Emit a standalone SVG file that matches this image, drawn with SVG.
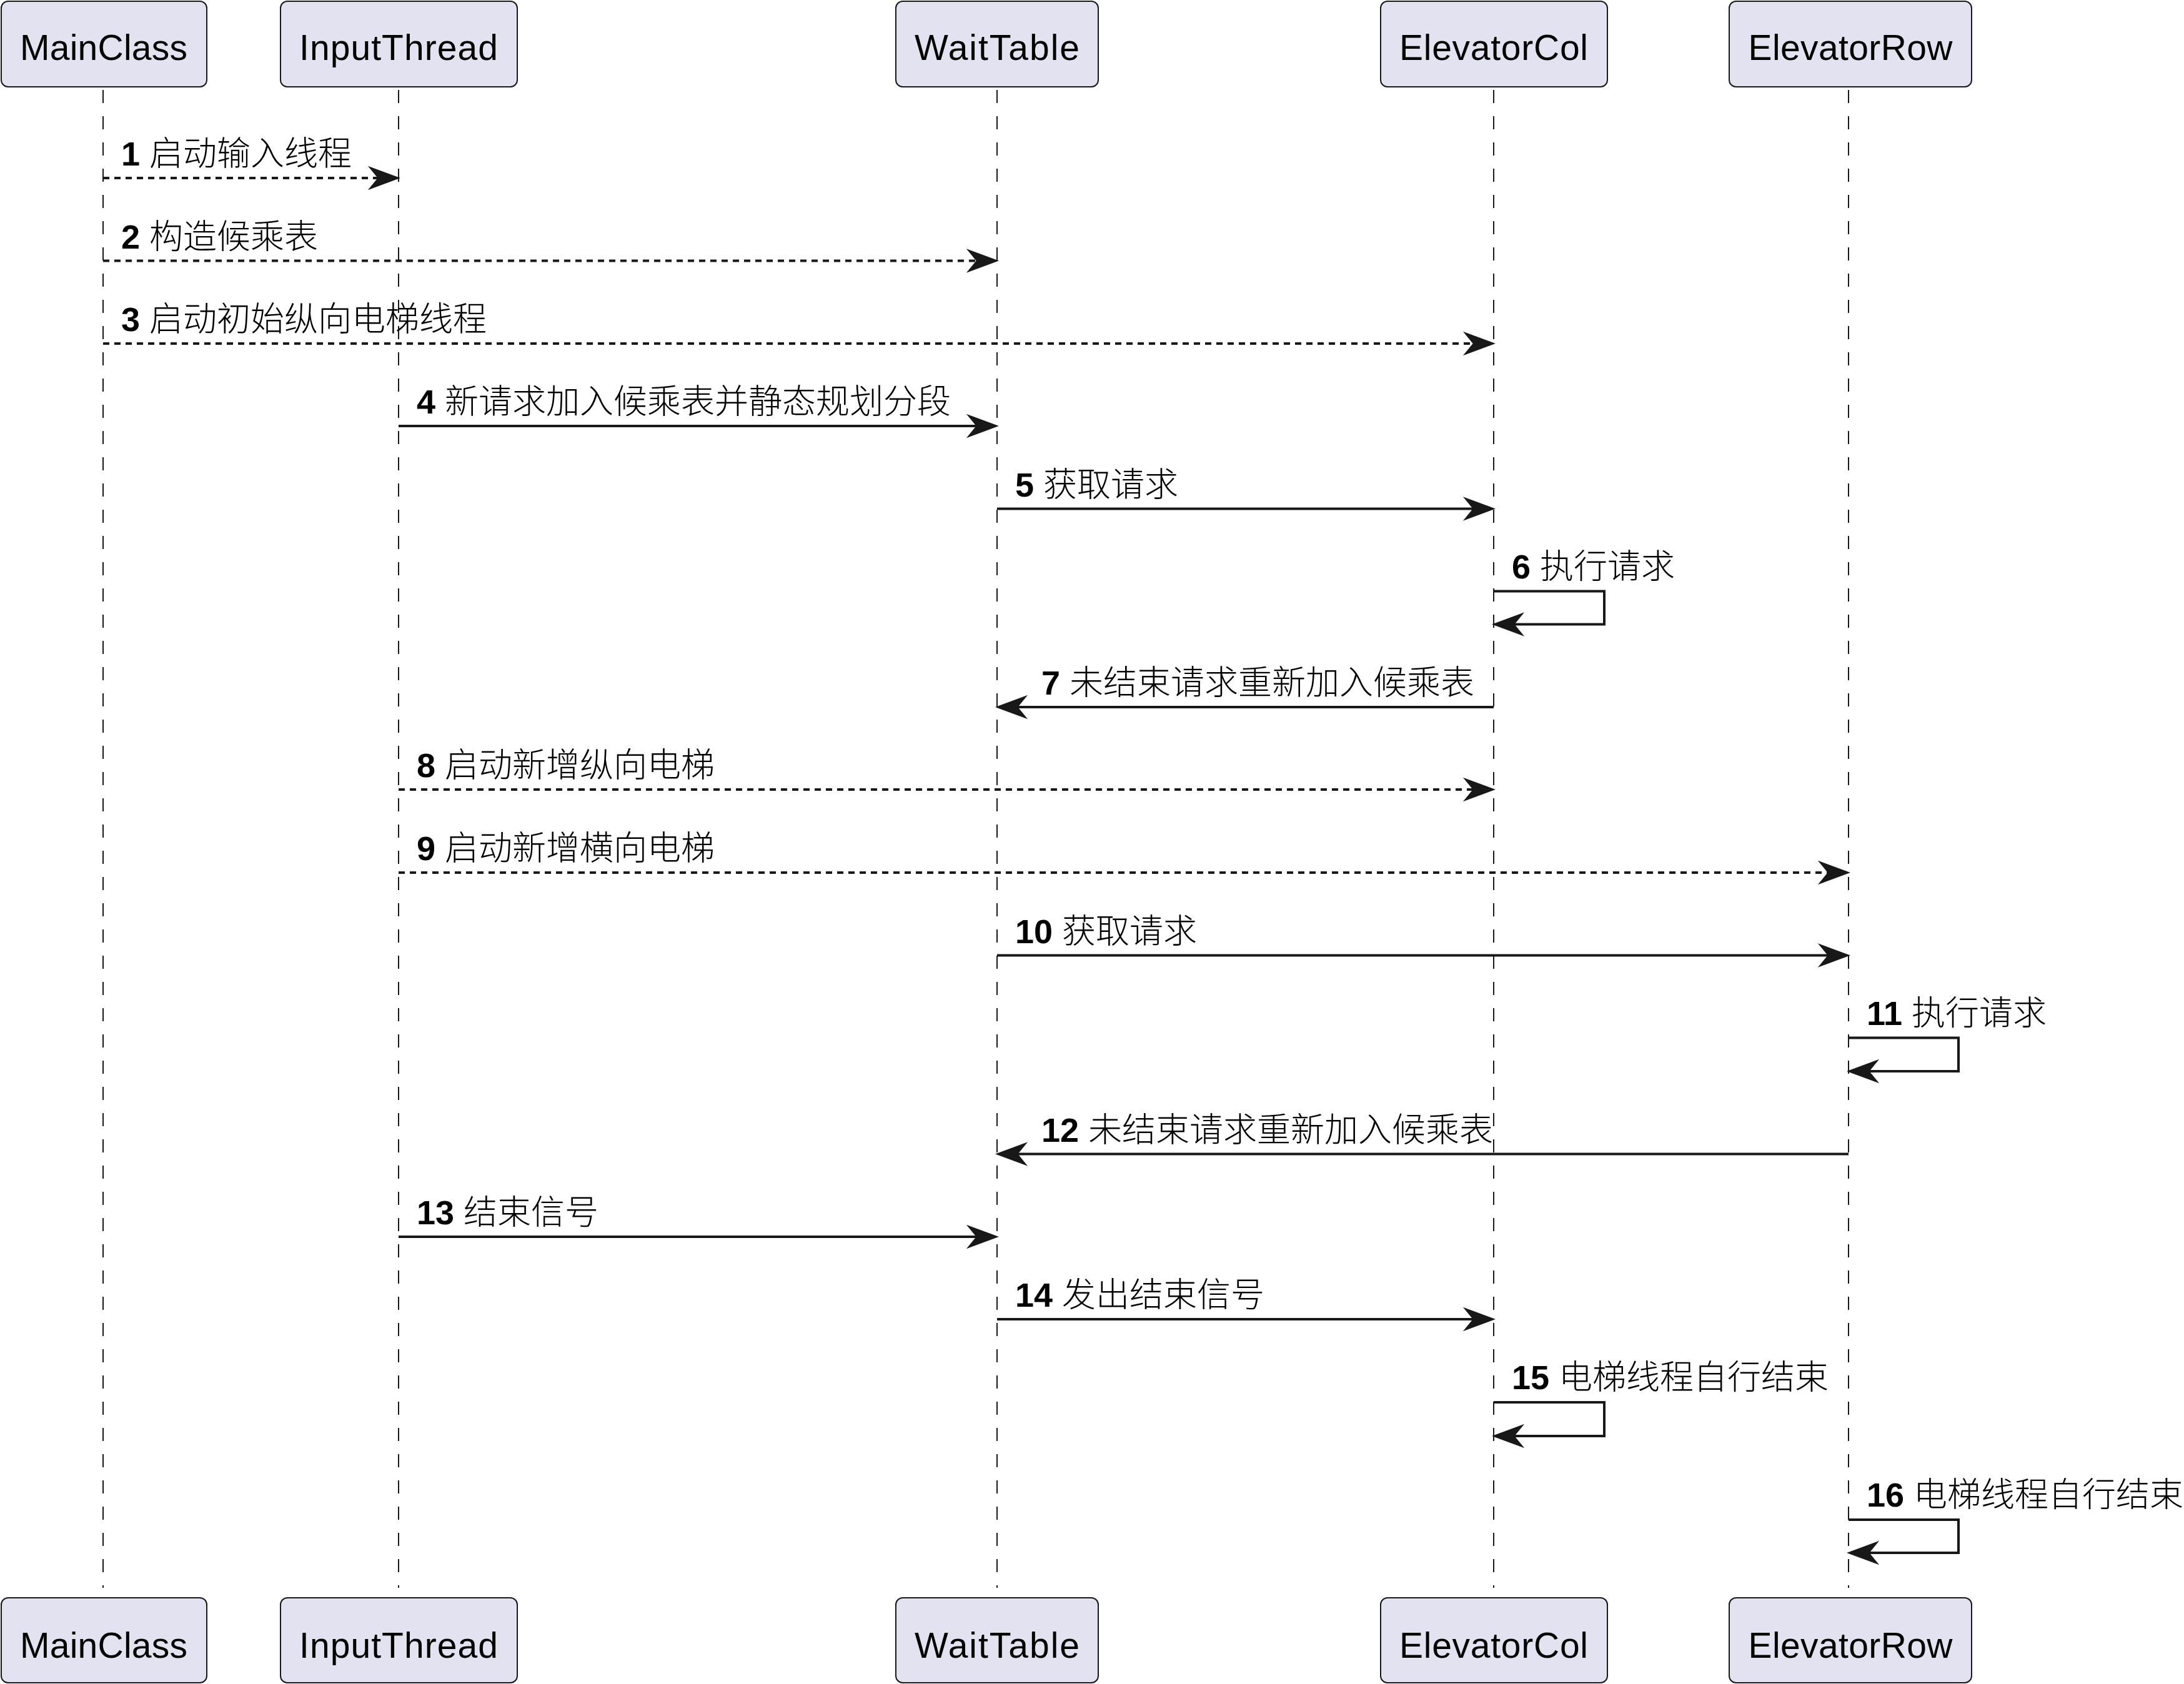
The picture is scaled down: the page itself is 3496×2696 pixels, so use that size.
<svg xmlns="http://www.w3.org/2000/svg" width="3496" height="2696" viewBox="0 0 3496 2696">
<style>
.box{fill:#E2E2F0;stroke:#181818;stroke-width:2}
.pname{font-family:"Liberation Sans","Noto Sans CJK SC",sans-serif;font-size:57px;fill:#000;text-anchor:middle}
.life{stroke:#181818;stroke-width:2;stroke-dasharray:21,21;fill:none}
.msg{stroke:#181818;stroke-width:4;fill:none;marker-end:url(#ah)}
.dash{stroke-dasharray:10,8}
.lbl{font-family:"Liberation Sans","Noto Sans CJK SC",sans-serif;font-size:54px;fill:#000}
.num{font-weight:bold}
.cjk{font-family:"Noto Sans CJK SC",sans-serif;font-weight:300}
</style>
<defs>
<marker id="ah" markerUnits="userSpaceOnUse" viewBox="-50 -22 60 44" markerWidth="60" markerHeight="44" refX="-6" refY="0" orient="auto" overflow="visible">
<path d="M0,0 L-46,-17 L-32,0 L-46,17 Z" fill="#181818" stroke="#181818" stroke-width="2" stroke-dasharray="none" stroke-linejoin="miter"/>
</marker>
</defs>
<rect width="3496" height="2696" fill="#FFFFFF"/>
<g id="lifelines">
<line class="life" x1="165" y1="144" x2="165" y2="2542"/>
<line class="life" x1="638" y1="144" x2="638" y2="2542"/>
<line class="life" x1="1596" y1="144" x2="1596" y2="2542"/>
<line class="life" x1="2391" y1="144" x2="2391" y2="2542"/>
<line class="life" x1="2959" y1="144" x2="2959" y2="2542"/>
</g>
<g id="MainClass">
<rect class="box" x="2" y="2" width="329" height="137" rx="11"/>
<text class="pname" x="166" y="96" textLength="268" lengthAdjust="spacing">MainClass</text>
<rect class="box" x="2" y="2558" width="329" height="136" rx="11"/>
<text class="pname" x="166" y="2654" textLength="268" lengthAdjust="spacing">MainClass</text>
</g>
<g id="InputThread">
<rect class="box" x="449" y="2" width="379" height="137" rx="11"/>
<text class="pname" x="638" y="96" textLength="318" lengthAdjust="spacing">InputThread</text>
<rect class="box" x="449" y="2558" width="379" height="136" rx="11"/>
<text class="pname" x="638" y="2654" textLength="318" lengthAdjust="spacing">InputThread</text>
</g>
<g id="WaitTable">
<rect class="box" x="1434" y="2" width="324" height="137" rx="11"/>
<text class="pname" x="1596" y="96" textLength="264" lengthAdjust="spacing">WaitTable</text>
<rect class="box" x="1434" y="2558" width="324" height="136" rx="11"/>
<text class="pname" x="1596" y="2654" textLength="264" lengthAdjust="spacing">WaitTable</text>
</g>
<g id="ElevatorCol">
<rect class="box" x="2210" y="2" width="363" height="137" rx="11"/>
<text class="pname" x="2391" y="96" textLength="302" lengthAdjust="spacing">ElevatorCol</text>
<rect class="box" x="2210" y="2558" width="363" height="136" rx="11"/>
<text class="pname" x="2391" y="2654" textLength="302" lengthAdjust="spacing">ElevatorCol</text>
</g>
<g id="ElevatorRow">
<rect class="box" x="2768" y="2" width="388" height="137" rx="11"/>
<text class="pname" x="2962" y="96" textLength="327" lengthAdjust="spacing">ElevatorRow</text>
<rect class="box" x="2768" y="2558" width="388" height="136" rx="11"/>
<text class="pname" x="2962" y="2654" textLength="327" lengthAdjust="spacing">ElevatorRow</text>
</g>
<g id="connectors">
<path class="msg dash" d="M165,285 H632"/>
<path class="msg dash" d="M165,417.5 H1590"/>
<path class="msg dash" d="M165,550 H2385"/>
<path class="msg" d="M638,682 H1590"/>
<path class="msg" d="M1596,814.5 H2385"/>
<path class="msg" d="M2391,946.5 H2568 V999.5 H2397"/>
<path class="msg" d="M2391,1132 H1602"/>
<path class="msg dash" d="M638,1264 H2385"/>
<path class="msg dash" d="M638,1397 H2953"/>
<path class="msg" d="M1596,1529.5 H2953"/>
<path class="msg" d="M2959,1661.5 H3135 V1715 H2965"/>
<path class="msg" d="M2959,1847.5 H1602"/>
<path class="msg" d="M638,1980 H1590"/>
<path class="msg" d="M1596,2112 H2385"/>
<path class="msg" d="M2391,2245 H2568 V2299 H2397"/>
<path class="msg" d="M2959,2433 H3135 V2486 H2965"/>
</g>
<g id="labels">
<text class="lbl" x="194" y="265"><tspan class="num">1</tspan> <tspan class="cjk">启动输入线程</tspan></text>
<text class="lbl" x="194" y="397.5"><tspan class="num">2</tspan> <tspan class="cjk">构造候乘表</tspan></text>
<text class="lbl" x="194" y="530"><tspan class="num">3</tspan> <tspan class="cjk">启动初始纵向电梯线程</tspan></text>
<text class="lbl" x="667" y="662"><tspan class="num">4</tspan> <tspan class="cjk">新请求加入候乘表并静态规划分段</tspan></text>
<text class="lbl" x="1625" y="794.5"><tspan class="num">5</tspan> <tspan class="cjk">获取请求</tspan></text>
<text class="lbl" x="2420" y="925.5"><tspan class="num">6</tspan> <tspan class="cjk">执行请求</tspan></text>
<text class="lbl" x="1667" y="1112"><tspan class="num">7</tspan> <tspan class="cjk">未结束请求重新加入候乘表</tspan></text>
<text class="lbl" x="667" y="1244"><tspan class="num">8</tspan> <tspan class="cjk">启动新增纵向电梯</tspan></text>
<text class="lbl" x="667" y="1377"><tspan class="num">9</tspan> <tspan class="cjk">启动新增横向电梯</tspan></text>
<text class="lbl" x="1625" y="1509.5"><tspan class="num">10</tspan> <tspan class="cjk">获取请求</tspan></text>
<text class="lbl" x="2988" y="1640.5"><tspan class="num">11</tspan> <tspan class="cjk">执行请求</tspan></text>
<text class="lbl" x="1667" y="1827.5"><tspan class="num">12</tspan> <tspan class="cjk">未结束请求重新加入候乘表</tspan></text>
<text class="lbl" x="667" y="1960"><tspan class="num">13</tspan> <tspan class="cjk">结束信号</tspan></text>
<text class="lbl" x="1625" y="2092"><tspan class="num">14</tspan> <tspan class="cjk">发出结束信号</tspan></text>
<text class="lbl" x="2420" y="2224"><tspan class="num">15</tspan> <tspan class="cjk">电梯线程自行结束</tspan></text>
<text class="lbl" x="2988" y="2412"><tspan class="num">16</tspan> <tspan class="cjk">电梯线程自行结束</tspan></text>
</g>
</svg>
